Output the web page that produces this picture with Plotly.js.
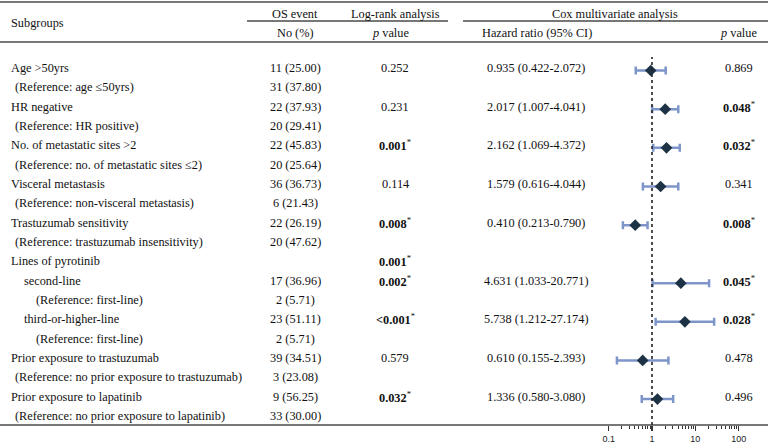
<!DOCTYPE html>
<html>
<head>
<meta charset="utf-8">
<script src="https://cdn.plot.ly/plotly-3.0.1.min.js"></script>
<style>
  body { margin: 0; background: #fff; }
  #forest { width: 768px; height: 443px; }
</style>
</head>
<body>
<div id="forest"></div>
<script>
// table rows, top to bottom
const subgroups = [
  'Age >50yrs',
  '(Reference: age \u226450yrs)',
  'HR negative',
  '(Reference: HR positive)',
  'No. of metastatic sites >2',
  '(Reference: no. of metastatic sites \u22642)',
  'Visceral metastasis',
  '(Reference: non-visceral metastasis)',
  'Trastuzumab sensitivity',
  '(Reference: trastuzumab insensitivity)',
  'Lines of pyrotinib',
  'second-line',
  '(Reference: first-line)',
  'third-or-higher-line',
  '(Reference: first-line)',
  'Prior exposure to trastuzumab',
  '(Reference: no prior exposure to trastuzumab)',
  'Prior exposure to lapatinib',
  '(Reference: no prior exposure to lapatinib)'
];
const indentLevel = [0, 1, 0, 1, 0, 1, 0, 1, 0, 1, 0, 2, 3, 2, 3, 0, 1, 0, 1];

const osEvent = [
  '11 (25.00)', '31 (37.80)', '22 (37.93)', '20 (29.41)', '22 (45.83)', '20 (25.64)',
  '36 (36.73)', '6 (21.43)', '22 (26.19)', '20 (47.62)', '', '17 (36.96)', '2 (5.71)',
  '23 (51.11)', '2 (5.71)', '39 (34.51)', '3 (23.08)', '9 (56.25)', '33 (30.00)'
];

// '*' marks significant values (drawn bold)
const logRankP = [
  '0.252', '', '0.231', '', '0.001*', '', '0.114', '', '0.008*', '',
  '0.001*', '0.002*', '', '<0.001*', '', '0.579', '', '0.032*', ''
];

const hazardRatio = [0.935, null, 2.017, null, 2.162, null, 1.579, null, 0.410, null,
  null, 4.631, null, 5.738, null, 0.610, null, 1.336, null];
const ciLow = [0.422, null, 1.007, null, 1.069, null, 0.616, null, 0.213, null,
  null, 1.033, null, 1.212, null, 0.155, null, 0.580, null];
const ciHigh = [2.072, null, 4.041, null, 4.372, null, 4.044, null, 0.790, null,
  null, 20.771, null, 27.174, null, 2.393, null, 3.080, null];

const coxP = [
  '0.869', '', '0.048*', '', '0.032*', '', '0.341', '', '0.008*', '',
  '', '0.045*', '', '0.028*', '', '0.478', '', '0.496', ''
];

const axisTicks = [0.1, 1, 10, 100];
const minorTicks = [0.2, 0.3, 0.4, 0.5, 0.6, 0.7, 0.8, 0.9, 2, 3, 4, 5, 6, 7, 8, 9,
  20, 30, 40, 50, 60, 70, 80, 90];
const refLine = 1;

const W = 768, H = 443;
const serif = '"Liberation Serif", "Times New Roman", serif';
const fontSize = 12.3;
const px = x => x / W;
const py = y => 1 - y / H;

function pText(s) {
  if (!s) return '';
  if (s.endsWith('*')) return '<b>' + s.slice(0, -1) + '</b><sup>*</sup>';
  return s;
}

const annotations = [];
function addCell(text, x, row, anchor) {
  if (!text) return;
  annotations.push({
    text: text, xref: 'paper', yref: 'y', x: px(x), y: row,
    xanchor: anchor, yanchor: 'middle', yshift: 2.5, showarrow: false,
    font: { family: serif, size: fontSize, color: '#111' }
  });
}
function addHeader(text, x, y, anchor) {
  annotations.push({
    text: text, xref: 'paper', yref: 'paper', x: px(x), y: py(y),
    xanchor: anchor, yanchor: 'middle', showarrow: false,
    font: { family: serif, size: fontSize, color: '#111' }
  });
}

const indentPx = [9, 13, 22, 34];
const rows = subgroups.map((_, i) => i);
rows.forEach(i => {
  addCell(subgroups[i], indentPx[indentLevel[i]], i, 'left');
  addCell(osEvent[i], 295, i, 'center');
  addCell(pText(logRankP[i]), 395, i, 'center');
  if (hazardRatio[i] != null) {
    const t = hazardRatio[i].toFixed(3) + ' (' + ciLow[i].toFixed(3) + '-' + ciHigh[i].toFixed(3) + ')';
    addCell(t, 536, i, 'center');
  }
  addCell(pText(coxP[i]), 739, i, 'center');
});

addHeader('Subgroups', 9, 23, 'left');
addHeader('OS event', 295, 14, 'center');
addHeader('Log-rank analysis', 395, 14, 'center');
addHeader('Cox multivariate analysis', 615, 14, 'center');
addHeader('No (%)', 295, 33, 'center');
addHeader('<i>p</i> value', 390, 33, 'center');
addHeader('Hazard ratio (95% CI)', 537, 33, 'center');
addHeader('<i>p</i> value', 738, 33, 'center');

const lineStyle = { color: '#4a4a4a', width: 1.5 };
const hline = (x0, x1, y) => ({
  type: 'line', xref: 'paper', yref: 'paper',
  x0: px(x0), x1: px(x1), y0: py(y), y1: py(y), line: lineStyle
});

const shapes = [
  hline(0, W, 2),
  hline(247, 448, 21),
  hline(463, W, 21),
  hline(0, W, 42),
  hline(0, W, 425),
  {
    type: 'line', xref: 'x', yref: 'paper', x0: refLine, x1: refLine,
    y0: py(425), y1: py(57), line: { color: '#222', width: 1.6, dash: 'dot' }
  }
];

const fx = [], fy = [], ePlus = [], eMinus = [];
rows.forEach(i => {
  if (hazardRatio[i] == null) return;
  fx.push(hazardRatio[i]);
  fy.push(i);
  ePlus.push(ciHigh[i] - hazardRatio[i]);
  eMinus.push(hazardRatio[i] - ciLow[i]);
});

const forestTrace = {
  x: fx, y: fy, type: 'scatter', mode: 'markers',
  marker: { symbol: 'diamond', size: 9, color: '#1d3345' },
  error_x: {
    type: 'data', symmetric: false, array: ePlus, arrayminus: eMinus,
    color: '#7e95c9', thickness: 2.5, width: 4
  },
  hoverinfo: 'skip', showlegend: false
};

// invisible copy so the minor-tick axis gets drawn
const minorTrace = {
  x: fx, y: fy, xaxis: 'x2', yaxis: 'y', type: 'scatter', mode: 'markers',
  marker: { size: 1, opacity: 0 }, hoverinfo: 'skip', showlegend: false
};

// pixel placement of the forest axis: 1 at x=652, 43.3px per decade
const perDecade = 43.33, onePx = 652, axLeft = 560;
const xRange = [-(onePx - axLeft) / perDecade, (W - onePx) / perDecade];
const tickFont = { family: '"Liberation Sans", Arial, sans-serif', size: 9, color: '#222' };

const layout = {
  width: W, height: H,
  margin: { l: 0, r: 0, t: 0, b: 0 },
  paper_bgcolor: '#fff', plot_bgcolor: 'rgba(0,0,0,0)',
  showlegend: false,
  xaxis: {
    type: 'log', domain: [px(axLeft), 1], range: xRange,
    showgrid: false, zeroline: false, showline: false,
    tickmode: 'array', tickvals: axisTicks, ticktext: axisTicks.map(String),
    ticks: 'outside', ticklen: 5, tickwidth: 1.2, tickcolor: '#333',
    tickfont: tickFont, fixedrange: true
  },
  // second copy of the log axis, only for the minor ticks
  xaxis2: {
    type: 'log', domain: [px(axLeft), 1], range: xRange, anchor: 'y', overlaying: 'x',
    side: 'bottom', showgrid: false, zeroline: false, showline: false,
    tickmode: 'array', tickvals: minorTicks, showticklabels: false,
    ticks: 'outside', ticklen: 3, tickwidth: 1, tickcolor: '#333', fixedrange: true
  },
  yaxis: {
    domain: [py(425), py(42)],
    range: [(425 - 70.5) / 19.33, (42 - 70.5) / 19.33],
    showgrid: false, zeroline: false, showline: false, showticklabels: false, ticks: '',
    fixedrange: true
  },
  annotations: annotations,
  shapes: shapes
};

Plotly.newPlot('forest', [minorTrace, forestTrace], layout, { displayModeBar: false, staticPlot: true });
</script>
</body>
</html>
